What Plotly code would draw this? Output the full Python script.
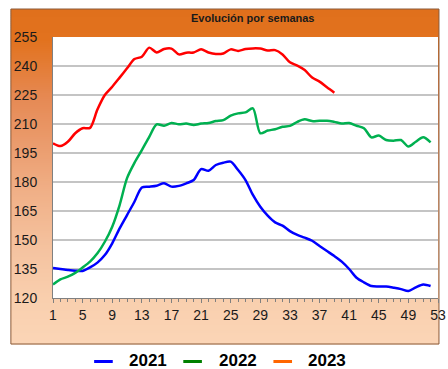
import plotly.graph_objects as go

# Weekly series
weeks_2021 = list(range(1, 53))
vals_2021 = [135.5, 135, 134.5, 134.1, 134, 135.8, 138.3, 142.2, 148.3, 156,
             162.9, 169.8, 177.2, 177.6, 178.1, 179.3, 177.6, 178, 179.3, 181,
             186.7, 185.8, 188.8, 190, 190.5, 186.2, 181, 173.3, 167.2, 162.6,
             159.1, 157.4, 154.6, 152.6, 151.2, 149.6, 146.9, 144.3, 141.7, 138.8,
             135, 130.5, 128.1, 126.2, 126, 125.9, 125.3, 124.6, 123.6, 125.5,
             127, 126.2]

weeks_2022 = list(range(1, 53))
vals_2022 = [127, 129.6, 131, 133, 135.8, 138.8, 143.1, 149.1, 156.9, 168.1,
             182, 189.9, 196.5, 203.4, 209.8, 209.1, 210.5, 209.9, 210.2, 209.5,
             210.2, 210.5, 211.5, 212, 214.3, 215.5, 216, 218.1, 205.2, 206.6,
             207.3, 208.6, 209, 211.1, 212.4, 211.5, 211.7, 211.7, 211.1, 210.3,
             210.5, 209.1, 207.8, 203.1, 204, 201.7, 201.4, 201.7, 198.3, 200.8,
             203.1, 200.5]

weeks_2023 = list(range(1, 40))
vals_2023 = [200, 198.6, 200.8, 205.2, 207.8, 208, 217.5, 225, 229.3, 234,
             238.8, 243.6, 244.8, 249.5, 247, 248.8, 249, 246, 246.9, 247,
             248.6, 247, 246.2, 246.5, 248.6, 247.8, 248.8, 249.1, 249, 248,
             248.2, 246, 241.9, 240.2, 237.9, 234, 231.9, 229, 226.2]

series_names = ["2021", "2022", "2023"]
line_colors = ["#0000FF", "#00B050", "#FF0000"]
legend_colors = ["#0000FF", "#008000", "#FF6600"]

y_ticks = [120, 135, 150, 165, 180, 195, 210, 225, 240, 255]
title_text = "Evolución por semanas"

W, H = 448, 369
L, R, T, B = 53, 2, 37, 71
PW, PH = W - L - R, H - T - B


def px(x):
    return (x - L) / PW


def py(y):
    return (H - B - y) / PH


def hex2rgb(h):
    h = h.lstrip("#")
    return tuple(int(h[i:i + 2], 16) for i in (0, 2, 4))


grad_stops = [(9, "#E0701C"), (40, "#E2721E"), (100, "#E68A55"), (150, "#EB9E70"),
              (190, "#F0AF86"), (250, "#F5C3A0"), (300, "#F9CFAE"), (344, "#FBD5B6")]


def grad_color(y):
    for (y0, c0), (y1, c1) in zip(grad_stops[:-1], grad_stops[1:]):
        if y0 <= y <= y1:
            t = (y - y0) / (y1 - y0)
            a, b = hex2rgb(c0), hex2rgb(c1)
            return "rgb(%d,%d,%d)" % tuple(round(a[i] + (b[i] - a[i]) * t) for i in range(3))
    return grad_stops[-1][1]


shapes = []
# gradient panel behind the chart
panel_x0, panel_x1, panel_y0, panel_y1 = 10, 447, 9, 344
step = 2
y = panel_y0
while y < panel_y1:
    y2 = min(y + step, panel_y1)
    shapes.append(dict(type="rect", xref="paper", yref="paper", layer="below",
                       x0=px(panel_x0), x1=px(panel_x1), y0=py(y2 + 0.5), y1=py(y),
                       fillcolor=grad_color(y + step / 2), line=dict(width=0)))
    y = y2
shapes.append(dict(type="rect", xref="paper", yref="paper", layer="below",
                   x0=px(panel_x0), x1=px(panel_x1), y0=py(panel_y1), y1=py(panel_y0),
                   fillcolor="rgba(0,0,0,0)", line=dict(color="#8A5A3A", width=1)))
# white plotting area
shapes.append(dict(type="rect", xref="paper", yref="paper", layer="below",
                   x0=0, x1=1, y0=0, y1=1, fillcolor="white", line=dict(width=0)))

fig = go.Figure()
for name, xs, ys, col in zip(series_names, [weeks_2021, weeks_2022, weeks_2023],
                             [vals_2021, vals_2022, vals_2023], line_colors):
    fig.add_trace(go.Scatter(x=xs, y=ys, name=name, mode="lines",
                             line=dict(color=col, width=2.5, shape="spline", smoothing=0.8),
                             showlegend=False))

# legend drawn below the panel
annotations = []
leg_y = 360.5
leg_items = [(95, 130), (186, 221), (278, 312)]
for (lx, tx), name, col in zip(leg_items, series_names, legend_colors):
    shapes.append(dict(type="line", xref="paper", yref="paper",
                       x0=px(lx), x1=px(lx + 19), y0=py(leg_y + 1), y1=py(leg_y + 1),
                       line=dict(color=col, width=3)))
    annotations.append(dict(text="<b>%s</b>" % name, xref="paper", yref="paper",
                            x=px(tx), y=py(leg_y), xanchor="left", yanchor="middle",
                            showarrow=False, borderpad=0,
                            font=dict(family="Liberation Sans, Arial", size=17, color="black")))

annotations.append(dict(text="<b>%s</b>" % title_text, xref="paper", yref="paper",
                        x=px(257), y=py(18), xanchor="center", yanchor="middle",
                        showarrow=False,
                        font=dict(family="Liberation Sans, Arial", size=11, color="#1a1a1a")))

fig.update_layout(
    width=W, height=H,
    margin=dict(l=L, r=R, t=T, b=B, pad=0),
    paper_bgcolor="white",
    plot_bgcolor="rgba(0,0,0,0)",
    shapes=shapes,
    annotations=annotations,
    font=dict(family="Liberation Sans, Arial", size=14, color="#1a1a1a"),
)
fig.update_xaxes(range=[1, 53], tick0=1, dtick=4, showgrid=False, zeroline=False,
                 showline=True, linecolor="#808080", linewidth=1,
                 ticks="outside", ticklen=4, tickcolor="#808080",
                 minor=dict(dtick=1, ticks="outside", ticklen=3, tickcolor="#808080"),
                 ticklabeloverflow="allow", tickfont=dict(size=14))
fig.update_yaxes(range=[120, 255], tickvals=y_ticks, showgrid=True, gridcolor="#C4C4C4",
                 gridwidth=1.5, zeroline=False, showline=True, linecolor="#808080",
                 linewidth=1, ticks="", ticklabelstandoff=12, tickfont=dict(size=14))

fig.write_html("out.html")
